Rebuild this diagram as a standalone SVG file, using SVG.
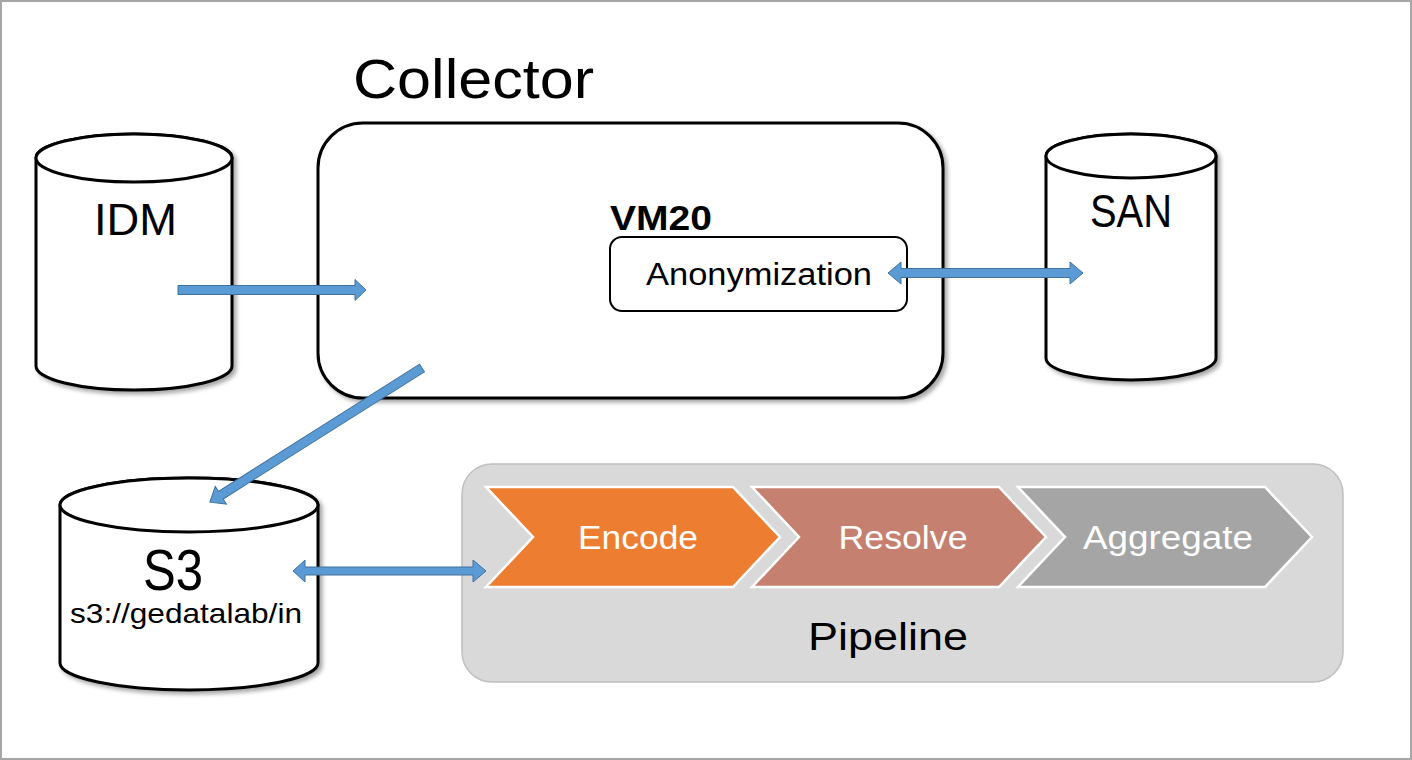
<svg xmlns="http://www.w3.org/2000/svg" width="1412" height="760" viewBox="0 0 1412 760">
<style>
text{font-family:"Liberation Sans",Arial,sans-serif;fill:#000}
.shape{fill:#fff;stroke:#000;stroke-width:3}
.arrow{fill:#5B9BD5;stroke:#41719C;stroke-width:1}
.chev{stroke:#fff;stroke-width:2.5}
.wt{fill:#fff}
</style>
<defs>
<filter id="sh" x="-10%" y="-10%" width="125%" height="125%">
<feDropShadow dx="3" dy="3" stdDeviation="2" flood-color="#000" flood-opacity="0.35"/>
</filter>
</defs>
<rect x="1" y="1" width="1410" height="758" fill="#fff" stroke="#a6a6a6" stroke-width="2"/>

<g id="collector">
<text x="353" y="98" font-size="56" textLength="241" lengthAdjust="spacingAndGlyphs">Collector</text>
<rect class="shape" x="318" y="123" width="625" height="275" rx="45" filter="url(#sh)"/>
<text x="610" y="230" font-size="35" font-weight="bold" textLength="102" lengthAdjust="spacingAndGlyphs">VM20</text>
</g>

<g id="anonymization">
<rect x="610" y="237" width="297" height="74" rx="12" fill="#fff" stroke="#000" stroke-width="2"/>
<text x="646" y="285" font-size="31" textLength="226" lengthAdjust="spacingAndGlyphs">Anonymization</text>
</g>

<g id="idm">
<g filter="url(#sh)">
<path class="shape" d="M36,158 A98,24 0 0 1 232,158 L232,366 A98,24 0 0 1 36,366 Z"/>
<ellipse class="shape" cx="134" cy="158" rx="98" ry="24"/>
</g>
<text x="94" y="235" font-size="45" textLength="83" lengthAdjust="spacingAndGlyphs">IDM</text>
</g>

<g id="san">
<g filter="url(#sh)">
<path class="shape" d="M1046,156 A85,22 0 0 1 1216,156 L1216,358 A85,22 0 0 1 1046,358 Z"/>
<ellipse class="shape" cx="1131" cy="156" rx="85" ry="22"/>
</g>
<text x="1090" y="227" font-size="47" textLength="82" lengthAdjust="spacingAndGlyphs">SAN</text>
</g>

<g id="s3">
<g filter="url(#sh)">
<path class="shape" d="M60,505 A129,27 0 0 1 318,505 L318,663 A129,27 0 0 1 60,663 Z"/>
<ellipse class="shape" cx="189" cy="505" rx="129" ry="27"/>
</g>
<text x="143" y="590" font-size="58" textLength="60" lengthAdjust="spacingAndGlyphs">S3</text>
<text x="70" y="623" font-size="28" textLength="232" lengthAdjust="spacingAndGlyphs">s3://gedatalab/in</text>
</g>

<g id="pipeline">
<rect x="462" y="464" width="881" height="218" rx="30" fill="#d9d9d9" stroke="#bfbfbf" stroke-width="1.5"/>
<text x="888" y="650" font-size="39" text-anchor="middle" textLength="160" lengthAdjust="spacingAndGlyphs">Pipeline</text>
</g>

<g id="encode">
<polygon class="chev" fill="#ED7D31" points="486,487 733,487 780,537 733,587 486,587 533,537"/>
<text class="wt" x="638" y="549" font-size="33" text-anchor="middle" textLength="120" lengthAdjust="spacingAndGlyphs">Encode</text>
</g>
<g id="resolve">
<polygon class="chev" fill="#C5806F" points="752,487 999,487 1046,537 999,587 752,587 799,537"/>
<text class="wt" x="903" y="549" font-size="33" text-anchor="middle" textLength="129" lengthAdjust="spacingAndGlyphs">Resolve</text>
</g>
<g id="aggregate">
<polygon class="chev" fill="#A5A5A5" points="1018,487 1265,487 1312,537 1265,587 1018,587 1065,537"/>
<text class="wt" x="1168" y="549" font-size="33" text-anchor="middle" textLength="170" lengthAdjust="spacingAndGlyphs">Aggregate</text>
</g>

<g id="connectors">
<polygon class="arrow" points="178,285.5 355,285.5 355,279.5 366,290 355,300.5 355,294.5 178,294.5"/>
<polygon class="arrow" points="888,273 901,262 901,268.5 1070,268.5 1070,262 1083,273 1070,284 1070,277.5 901,277.5 901,284"/>
<polygon class="arrow" points="293,571 305,560 305,567 473,567 473,560 486,571 473,582 473,575 305,575 305,582"/>
<polygon class="arrow" transform="translate(422,368) rotate(147.7)" points="0,-4.5 238,-4.5 238,-10.5 251,0 238,10.5 238,4.5 0,4.5"/>
</g>
</svg>
